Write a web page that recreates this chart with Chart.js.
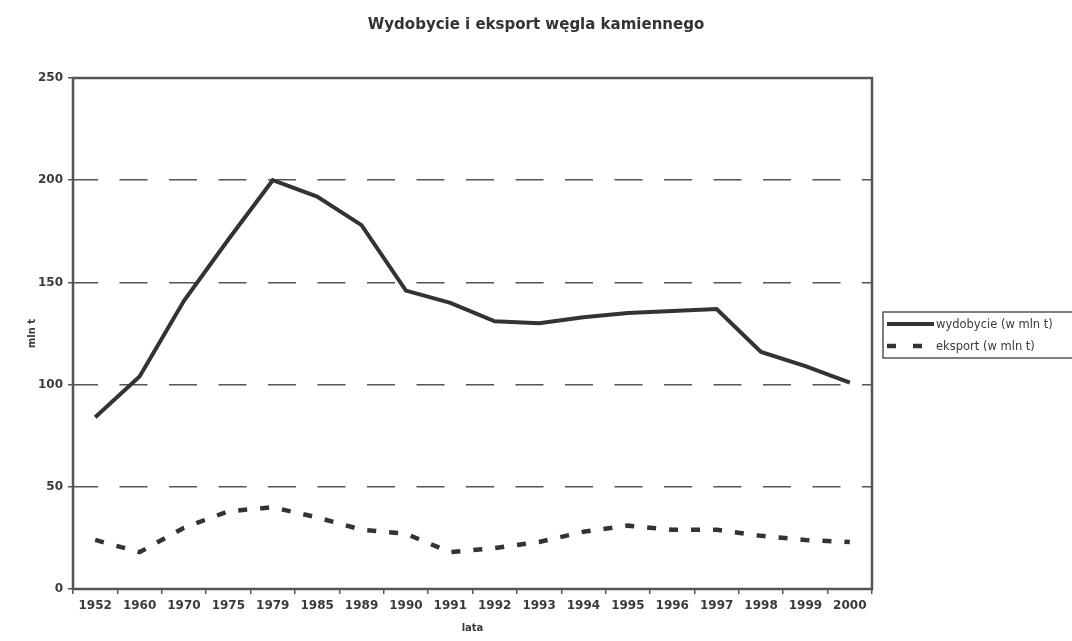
<!DOCTYPE html>
<html><head><meta charset="utf-8">
<script src="https://cdn.jsdelivr.net/npm/chart.js@4"></script>
<style>html,body{margin:0;padding:0;background:#fff}</style>
</head><body>
<canvas id="c" width="1072" height="641"></canvas>
<script>
const TITLE = 'Wydobycie i eksport węgla kamiennego';
const years = ['1952','1960','1970','1975','1979','1985','1989','1990','1991','1992','1993','1994','1995','1996','1997','1998','1999','2000'];
const wydobycie = [84, 104, 141, 171, 200, 192, 178, 146, 140, 131, 130, 133, 135, 136, 137, 116, 109, 101];
const eksport = [24, 18, 30, 38, 40, 35, 29, 27, 18, 20, 23, 28, 31, 29, 29, 26, 24, 23];
const seriesNames = ['wydobycie (w mln t)', 'eksport (w mln t)'];
const yAxisTitle = 'mln t';
const xAxisTitle = 'lata';
const yMin = 0, yMax = 250, yStep = 50;

const INK = '#333';
const TXT = '#3a3a3a';
const FRAME = '#555';

const framePlugin = {
  id: 'frame',
  beforeDatasetsDraw(chart) {
    const a = chart.chartArea, ctx = chart.ctx;
    ctx.save();
    ctx.strokeStyle = FRAME;
    ctx.lineWidth = 2.5;
    ctx.setLineDash([]);
    ctx.strokeRect(a.left, a.top, a.right - a.left, a.bottom - a.top);
    ctx.restore();
  }
};

const legendPlugin = {
  id: 'boxLegend',
  afterDraw(chart) {
    const ctx = chart.ctx;
    const ds = chart.data.datasets;
    const bx = 883, by = 312, bh = 46;
    ctx.save();
    ctx.strokeStyle = FRAME;
    ctx.lineWidth = 1.5;
    ctx.strokeRect(bx, by, 200, bh);
    const rows = [324, 346];
    ds.forEach((d, i) => {
      ctx.strokeStyle = d.borderColor;
      ctx.lineWidth = d.borderWidth;
      ctx.setLineDash(i === 0 ? [] : [9, 17]);
      ctx.beginPath();
      ctx.moveTo(887, rows[i]);
      ctx.lineTo(i === 0 ? 934 : 922, rows[i]);
      ctx.stroke();
      ctx.setLineDash([]);
      ctx.fillStyle = TXT;
      ctx.font = '11.5px "DejaVu Sans"';
      ctx.textBaseline = 'middle';
      ctx.textAlign = 'left';
      ctx.fillText(d.label, 936, rows[i] + 1);
    });
    ctx.restore();
  }
};

new Chart(document.getElementById('c'), {
  type: 'line',
  data: {
    labels: years,
    datasets: [
      { label: seriesNames[0], data: wydobycie, borderColor: INK, borderWidth: 4, pointRadius: 0, tension: 0, fill: false },
      { label: seriesNames[1], data: eksport, borderColor: INK, borderWidth: 4.5, borderDash: [9, 13], pointRadius: 0, tension: 0, fill: false }
    ]
  },
  options: {
    responsive: false,
    animation: false,
    devicePixelRatio: 1,
    layout: { padding: { left: 0, right: 0, top: 0, bottom: 0 } },
    plugins: {
      legend: { display: false },
      tooltip: { enabled: false },
      title: {
        display: true, text: TITLE, color: INK,
        font: { family: 'DejaVu Sans', size: 15, weight: 'bold' },
        padding: { top: 16, bottom: 44 }
      }
    },
    scales: {
      x: {
        type: 'category',
        offset: true,
        grid: { offset: true, drawOnChartArea: false, tickLength: 5, color: FRAME, lineWidth: 1.5 },
        border: { display: false },
        ticks: { color: TXT, font: { family: 'DejaVu Sans', size: 12, weight: 'bold' }, padding: 5, maxRotation: 0, autoSkip: false },
        title: { display: true, text: xAxisTitle, color: TXT, font: { family: 'DejaVu Sans', size: 10, weight: 'bold' }, padding: { top: 0, bottom: 7 } },
        afterFit(s) { s.height = 52; }
      },
      y: {
        position: 'left',
        min: yMin, max: yMax,
        ticks: { stepSize: yStep, color: TXT, font: { family: 'DejaVu Sans', size: 12, weight: 'bold' }, padding: 5 },
        grid: {
          color: c => (c.tick && (c.tick.value === yMin || c.tick.value === yMax)) ? 'rgba(0,0,0,0)' : FRAME,
          lineWidth: 1.5, tickColor: FRAME, tickLength: 5, tickWidth: 1.5
        },
        border: { display: false, dash: [28, 21.5], dashOffset: 3 },
        title: { display: true, text: yAxisTitle, color: TXT, font: { family: 'DejaVu Sans', size: 10, weight: 'bold' }, padding: { top: 26, bottom: 0 } },
        afterFit(s) { s.width = 73; }
      },
      yR: {
        position: 'right',
        display: true,
        grid: { display: false },
        ticks: { display: false },
        border: { display: false },
        afterFit(s) { s.width = 200; }
      }
    }
  },
  plugins: [framePlugin, legendPlugin]
});
</script>
</body></html>
